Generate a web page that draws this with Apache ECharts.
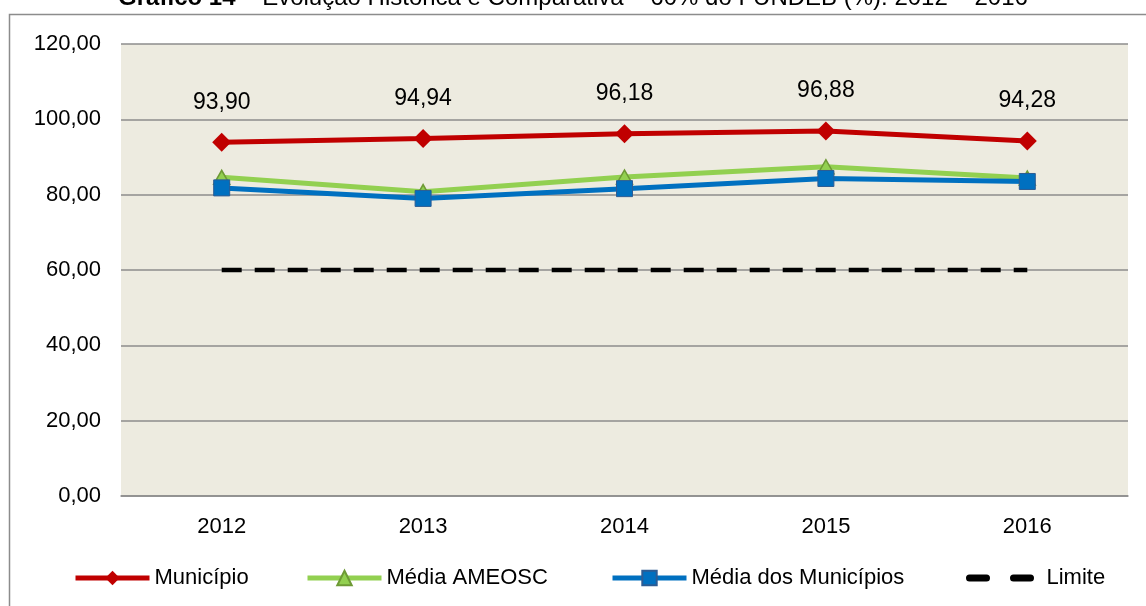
<!DOCTYPE html>
<html><head><meta charset="utf-8">
<script src="https://cdn.jsdelivr.net/npm/echarts@6/dist/echarts.min.js"></script>
<style>html,body{margin:0;padding:0;background:#fff}#c{width:1146px;height:606px}</style>
</head><body><div id="c"></div>
<script>
const categories = ['2012','2013','2014','2015','2016'];
const municipio = [93.90, 94.94, 96.18, 96.88, 94.28];
const mediaAmeosc = [84.6, 80.8, 84.7, 87.4, 84.4];
const mediaMunicipios = [81.8, 79.0, 81.6, 84.3, 83.5];
const limite = [60, 60, 60, 60, 60];
const seriesNames = ['Município', 'Média AMEOSC', 'Média dos Municípios', 'Limite'];

const fmt = v => v.toFixed(2).replace('.', ',');
const chart = echarts.init(document.getElementById('c'));
const F = 'Arial, "Liberation Sans", sans-serif';
const legendTxt = {fontSize: 22, color: '#000', fontFamily: F};
function mkLegend(name, left, width, extra) {
  return Object.assign({
    top: 567, left: left, itemWidth: width, itemHeight: 18, itemGap: 0, padding: 0,
    textStyle: legendTxt, lineStyle: {width: 5},
    data: [name]
  }, extra || {});
}
chart.setOption({
  animation: false,
  backgroundColor: '#fff',
  textStyle: {fontFamily: F},
  graphic: [{type: 'rect', shape: {x: 9.5, y: 14.5, width: 1150, height: 600}, style: {fill: 'none', stroke: '#8c8c8c', lineWidth: 1.5}}],
  title: {
    text: '{b|Gráfico 14} – Evolução Histórica e Comparativa – 60% do FUNDEB (%): 2012 – 2016',
    left: 'center', top: -19,
    textStyle: {fontSize: 24, fontWeight: 'normal', color: '#000', fontFamily: F,
      rich: {b: {fontSize: 24, fontWeight: 'bold', color: '#000', fontFamily: F}}}
  },
  legend: [
    mkLegend(seriesNames[0], 73, 74),
    mkLegend(seriesNames[1], 305, 74),
    mkLegend(seriesNames[2], 610, 74),
    mkLegend(seriesNames[3], 966, 64, {
      lineStyle: {width: 7, type: [17, 27], cap: 'round'},
      itemStyle: {opacity: 0},
      textStyle: Object.assign({}, legendTxt, {padding: [0, 0, 0, 8]})
    })
  ],
  grid: {left: 121, right: 18, top: 44, bottom: 110, backgroundColor: '#EDEBE0', show: true, borderWidth: 0},
  xAxis: {
    type: 'category', data: categories,
    axisLine: {lineStyle: {color: '#8c8c8c', width: 1.5}},
    axisTick: {show: false},
    axisLabel: {fontSize: 22, color: '#000', margin: 20, fontFamily: F}
  },
  yAxis: {
    type: 'value', min: 0, max: 120, interval: 20,
    axisLine: {show: false}, axisTick: {show: false},
    splitLine: {lineStyle: {color: '#8c8c8c', width: 1.5}},
    axisLabel: {fontSize: 22, color: '#000', margin: 20, fontFamily: F, formatter: v => fmt(v)}
  },
  series: [
    {name: 'Limite', type: 'line', data: limite, symbol: 'none', z: 1,
     itemStyle: {color: '#000'},
     lineStyle: {color: '#000', width: 4.5, type: [20, 13]}},
    {name: 'Média dos Municípios', type: 'line', data: mediaMunicipios, symbol: 'rect', symbolSize: 16, z: 3,
     itemStyle: {color: '#0070C0', borderColor: '#2C5C94', borderWidth: 1},
     lineStyle: {color: '#0070C0', width: 5}},
    {name: 'Média AMEOSC', type: 'line', data: mediaAmeosc, symbol: 'triangle', symbolSize: [16, 14], z: 2,
     itemStyle: {color: '#92D050', borderColor: '#6E9A35', borderWidth: 1.5},
     lineStyle: {color: '#92D050', width: 5}},
    {name: 'Município', type: 'line', data: municipio, symbol: 'diamond', symbolSize: [19, 19], z: 4,
     itemStyle: {color: '#C00000'},
     lineStyle: {color: '#C00000', width: 5},
     label: {show: true, position: 'top', distance: 19, fontSize: 23, color: '#000', fontFamily: F, formatter: p => fmt(p.value)}}
  ]
});
</script></body></html>
